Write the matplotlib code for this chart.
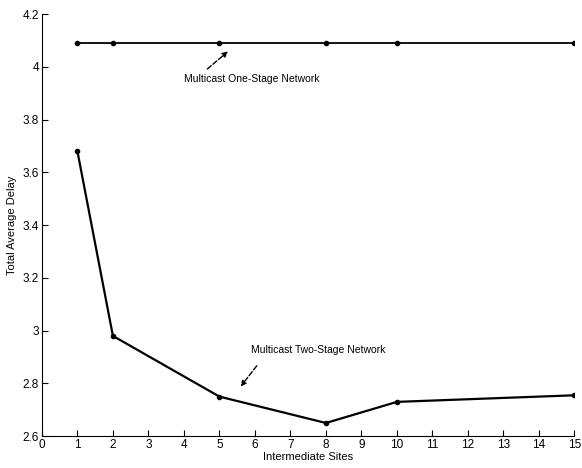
import matplotlib.pyplot as plt
from matplotlib.ticker import FuncFormatter

plt.rcParams['font.family'] = ['Liberation Sans', 'DejaVu Sans']

# Данные
sites = [1, 2, 5, 8, 10, 15]
one_stage = [4.09, 4.09, 4.09, 4.09, 4.09, 4.09]
two_stage = [3.68, 2.98, 2.75, 2.65, 2.73, 2.755]
x_ticks = list(range(0, 16))
y_ticks = [2.6, 2.8, 3.0, 3.2, 3.4, 3.6, 3.8, 4.0, 4.2]

fig = plt.figure(figsize=(5.82, 4.68), dpi=100)
ax = fig.add_axes([0.072, 0.068, 0.915, 0.902])

ax.plot(sites, one_stage, color='black', lw=1.3, marker='o', ms=3)
ax.plot(sites, two_stage, color='black', lw=1.6, marker='o', ms=3)

ax.set_xlim(0, 15)
ax.set_ylim(2.6, 4.2)
ax.set_xticks(x_ticks)
ax.set_yticks(y_ticks)
ax.yaxis.set_major_formatter(FuncFormatter(lambda v, p: f'{v:g}'))
ax.tick_params(direction='in', length=4, labelsize=8.5, pad=2)

ax.spines['top'].set_visible(False)
ax.spines['right'].set_visible(False)
ax.spines['left'].set_linestyle((0, (2, 1)))

ax.set_xlabel('Intermediate Sites', fontsize=8, labelpad=1)
ax.set_ylabel('Total Average Delay', fontsize=8, labelpad=4)

# Подписи со стрелками
ax.annotate('', xy=(5.3, 4.065), xytext=(4.6, 3.985),
            arrowprops=dict(arrowstyle='-|>', color='black', lw=1, ls='--',
                            mutation_scale=8))
ax.text(4.0, 3.955, 'Multicast One-Stage Network', fontsize=7.5, va='center')

ax.annotate('', xy=(5.55, 2.78), xytext=(6.1, 2.875),
            arrowprops=dict(arrowstyle='-|>', color='black', lw=1, ls='--',
                            mutation_scale=8))
ax.text(5.9, 2.925, 'Multicast Two-Stage Network', fontsize=7.5, va='center')

fig.savefig('out.png', dpi=100)
